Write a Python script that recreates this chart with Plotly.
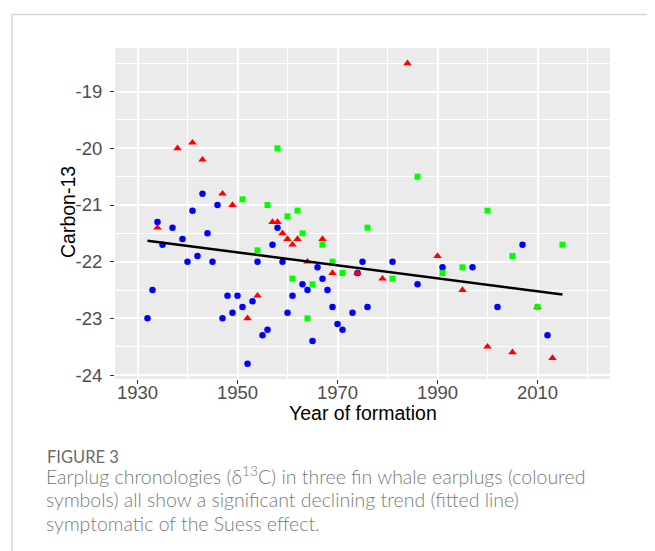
import numpy as np
import plotly.graph_objects as go

# ---- data ----
blue_years = [1932, 1933, 1934, 1935, 1937, 1939, 1940, 1941, 1942, 1943, 1944, 1945, 1946,
              1947, 1948, 1949, 1950, 1951, 1952, 1953, 1954, 1955, 1956, 1957, 1958, 1959,
              1960, 1961, 1963, 1964, 1965, 1966, 1967, 1968, 1969, 1970, 1971, 1973, 1974,
              1975, 1976, 1981, 1986, 1991, 1997, 2002, 2007, 2012]
blue_c13 = [-23.0, -22.5, -21.3, -21.7, -21.4, -21.6, -22.0, -21.1, -21.9, -20.8, -21.5, -22.0, -21.0,
            -23.0, -22.6, -22.9, -22.6, -22.8, -23.8, -22.7, -22.0, -23.3, -23.2, -21.7, -21.4, -22.0,
            -22.9, -22.6, -22.4, -22.5, -23.4, -22.1, -22.3, -22.5, -22.8, -23.1, -23.2, -22.9, -22.2,
            -22.0, -22.8, -22.0, -22.4, -22.1, -22.1, -22.8, -21.7, -23.3]

red_years = [1934, 1938, 1941, 1943, 1947, 1949, 1952, 1954, 1957, 1958, 1959, 1960, 1961,
             1962, 1964, 1967, 1969, 1974, 1979, 1984, 1990, 1995, 2000, 2005, 2010, 2013]
red_c13 = [-21.4, -20.0, -19.9, -20.2, -20.8, -21.0, -23.0, -22.6, -21.3, -21.3, -21.5, -21.6, -21.7,
           -21.6, -22.0, -21.6, -22.2, -22.2, -22.3, -18.5, -21.9, -22.5, -23.5, -23.6, -22.8, -23.7]

green_years = [1951, 1954, 1956, 1958, 1960, 1961, 1962, 1963, 1964, 1965, 1967, 1969, 1971,
               1976, 1981, 1986, 1991, 1995, 2000, 2005, 2010, 2015]
green_c13 = [-20.9, -21.8, -21.0, -20.0, -21.2, -22.3, -21.1, -21.5, -23.0, -22.4, -21.7, -22.0, -22.2,
             -21.4, -22.3, -20.5, -22.2, -22.1, -21.1, -21.9, -22.8, -21.7]

x_ticks = [1930, 1950, 1970, 1990, 2010]
y_ticks = [-19, -20, -21, -22, -23, -24]

x_title = "Year of formation"
y_title = "Carbon-13"
caption_label = "FIGURE 3"
caption_lines = [
    "Earplug chronologies (\u03b4<sup>13</sup>C) in three fin whale earplugs (coloured",
    "symbols) all show a significant declining trend (fitted line)",
    "symptomatic of the Suess effect.",
]

# ---- fitted line (ordinary least squares on all points) ----
all_x = np.array(blue_years + red_years + green_years, dtype=float)
all_y = np.array(blue_c13 + red_c13 + green_c13, dtype=float)
slope, intercept = np.polyfit(all_x, all_y, 1)
fit_x = np.array([all_x.min(), all_x.max()])
fit_y = slope * fit_x + intercept

fig = go.Figure()
fig.add_trace(go.Scatter(x=blue_years, y=blue_c13, mode="markers",
                         marker=dict(symbol="circle", size=6.5, color="#0000FF"),
                         showlegend=False))
fig.add_trace(go.Scatter(x=red_years, y=red_c13, mode="markers",
                         marker=dict(symbol="triangle-up", size=7.5, color="#FF0000"),
                         showlegend=False))
fig.add_trace(go.Scatter(x=green_years, y=green_c13, mode="markers",
                         marker=dict(symbol="square", size=6, color="#00FF00"),
                         showlegend=False))
fig.add_trace(go.Scatter(x=fit_x, y=fit_y, mode="lines",
                         line=dict(color="black", width=2.5), showlegend=False))

# page body has an 8px margin; work in page pixels and offset
OFF = 8
W, H = 655 - OFF, 551 - OFF
L, R, T, B = 107, 45, 40, 172
pw, ph = W - L - R, H - T - B


def px(xpage):
    return (xpage - OFF - L) / pw


def py(ypage):
    return (H - B - (ypage - OFF)) / ph


annotations = [
    dict(text=caption_label, x=px(45), y=py(457), xref="paper", yref="paper",
         xanchor="left", yanchor="middle", showarrow=False,
         font=dict(family="Lato", size=16.5, color="#6b6b6b")),
    dict(text=x_title, x=px(363), y=py(413), xref="paper", yref="paper",
         xanchor="center", yanchor="middle", showarrow=False,
         font=dict(family="Liberation Sans", size=19.5, color="black")),
    dict(text=y_title, x=px(68), y=py(212), xref="paper", yref="paper",
         xanchor="center", yanchor="middle", showarrow=False, textangle=-90,
         font=dict(family="Liberation Sans", size=19.5, color="black")),
]
for i, line in enumerate(caption_lines):
    annotations.append(dict(text=line, x=px(44), y=py(475 + 24 * i), xref="paper", yref="paper",
                            xanchor="left", yanchor="middle", showarrow=False,
                            font=dict(family="Lato", size=19.5, color="#7a7a7a", weight=300)))

shapes = [
    dict(type="line", xref="paper", yref="paper", x0=px(12), x1=px(660), y0=py(14.5), y1=py(14.5),
         line=dict(color="#d6d6d6", width=1.5)),
    dict(type="line", xref="paper", yref="paper", x0=px(12), x1=px(12), y0=py(14), y1=py(560),
         line=dict(color="#d6d6d6", width=1.5)),
]

fig.update_layout(
    width=W, height=H,
    margin=dict(l=L, r=R, t=T, b=B),
    paper_bgcolor="white",
    plot_bgcolor="#EBEBEB",
    font=dict(family="Liberation Sans", color="black"),
    annotations=annotations,
    shapes=shapes,
)
fig.update_xaxes(
    range=[1925.5, 2024.5], tickvals=x_ticks, ticktext=[str(v) for v in x_ticks],
    showgrid=True, gridcolor="white", gridwidth=1.6,
    minor=dict(dtick=10, tick0=1940, showgrid=True, gridcolor="white", gridwidth=0.8),
    zeroline=False, showline=False,
    ticks="outside", ticklen=4, tickcolor="#333333", tickwidth=1,
    ticklabelstandoff=-7,
    tickfont=dict(family="Liberation Sans", size=18.5, color="#4D4D4D"),
)
fig.update_yaxes(
    range=[-24.07, -18.23], tickvals=y_ticks, ticktext=[str(v) for v in y_ticks],
    showgrid=True, gridcolor="white", gridwidth=1.6,
    minor=dict(dtick=1, tick0=-18.5, showgrid=True, gridcolor="white", gridwidth=0.8),
    zeroline=False, showline=False,
    ticks="outside", ticklen=4, tickcolor="#333333", tickwidth=1,
    ticklabelstandoff=4,
    tickfont=dict(family="Liberation Sans", size=18.5, color="#4D4D4D"),
)

fig.write_html("out.html")
